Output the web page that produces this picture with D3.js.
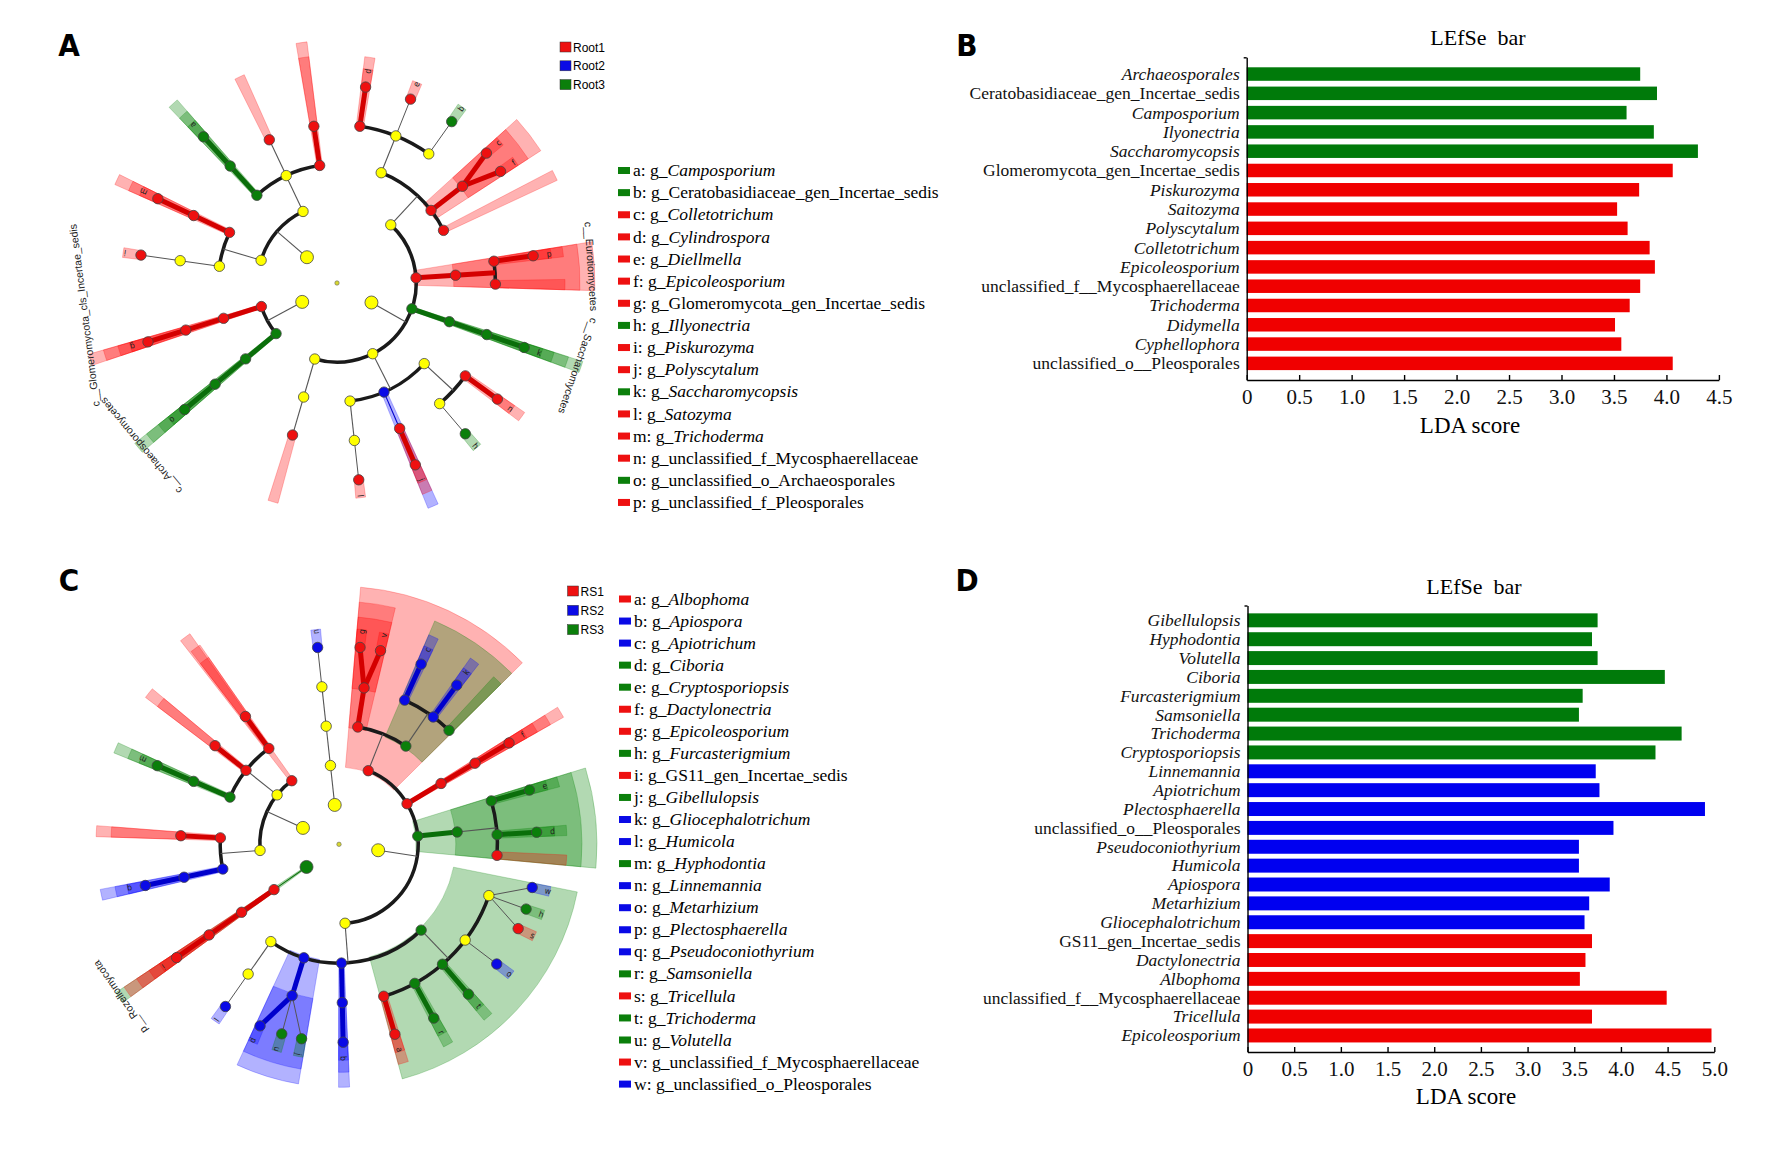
<!DOCTYPE html>
<html><head><meta charset="utf-8">
<script src="https://cdn.jsdelivr.net/npm/d3@7"></script>
<style>
body{margin:0;background:#fff;}
svg{display:block;}
.serif{font-family:"Liberation Serif","Times New Roman",serif;}
.narrow{font-family:"Liberation Sans Narrow","Arial Narrow","DejaVu Sans Condensed","Liberation Sans",sans-serif;}
.sans{font-family:"Liberation Sans",Arial,sans-serif;}
</style></head><body>
<svg id="fig" width="1767" height="1160"></svg>
<script>
// ---------- data ----------
// cladogram rows: [id, parent, group (0 none,1,2,3), leaf angle (deg, clockwise from east), genus letter, clade label]
var cladoA = [
  ["root", ""], 
  ["P1","root",0], ["C1a","P1",0], ["O1","C1a",0], ["F1","O1",1], ["Gd","F1",1,-81.7,"d"], ["F2","O1",0], ["Ge","F2",1,-68.2,"e"],
  ["F3","O1",0], ["Gb","F3",3,-54.6,"b"], ["O2","C1a",1], ["F4","O2",1], ["Gc","F4",1,-41,"c"], ["Gf","F4",1,-34.3,"f"], ["O3","C1a",1,-26.3],
  ["C1b","P1",1,null,"","c__Eurotiomycetes"], ["O4","C1b",1], ["F5","O4",1], ["Gp","F5",1,-7.9,"p"], ["F6","O4",1,0.4],
  ["C1c","P1",3,null,"","c__Saccharomycetes"], ["O5","C1c",3], ["F7","O5",3], ["Gk","F7",3,19,"k"],
  ["C1d","P1",0], ["O6","C1d",0], ["F8","O6",1], ["Gn","F8",1,35.9,"n"], ["F9","O6",0], ["Gh","F9",3,49.6,"h"],
  ["O7","C1d",2], ["F10","O7",1], ["Gj","F10",1,66.7,"j"], ["O8","C1d",0], ["F11","O8",0], ["Gl","F11",1,83.7,"l"],
  ["C1e","P1",0], ["O9","C1e",0], ["F12","O9",1,106.3],
  ["P2","root",0], ["C2a","P2",3,null,"","c__Archaeosporomycetes"], ["O10","C2a",3], ["F13","O10",3], ["Go","F13",3,140.3,"o"],
  ["C2b","P2",1,null,"","c__Glomeromycota_cls_Incertae_sedis"], ["O11","C2b",1], ["F14","O11",1], ["Gg","F14",1,162.7,"g"],
  ["P3","root",0], ["C3a","P3",0], ["O12","C3a",0], ["F15","O12",0], ["Gi","F15",1,-171.9,"i"],
  ["O13","C3a",1], ["F16","O13",1], ["Gm","F16",1,-154.8,"m"],
  ["C3b","P3",0], ["O14","C3b",3], ["F17","O14",3], ["Ga","F17",3,-132.4,"a"],
  ["O15","C3b",0], ["F18","O15",1,-115.3], ["O16","C3b",1], ["F19","O16",1,-98.4]
];
var cladoC = [
  ["root", ""],
  ["P1","root",0],
  ["C1","P1",1], ["O1","C1",1], ["F1","O1",1], ["Gg","F1",1,-83.9,"g"], ["Gv","F1",1,-77.9,"v"],
  ["O2","C1",3], ["F2","O2",2], ["Gc","F2",2,-65.5,"c"], ["F3","O2",2], ["Gk","F3",2,-53.5,"k"], ["F4","O2",3,-46],
  ["C2","P1",1], ["O3","C2",1], ["F5","O3",1], ["Gf","F5",1,-30.8,"f"],
  ["C3","P1",3], ["O4","C3",3], ["F6","O4",3], ["Ge","F6",3,-15.9,"e"], ["F7","O4",3], ["Gd","F7",3,-3.5,"d"], ["F8","O4",1,4],
  ["C4","P1",0], ["O5","C4",3], ["F9","O5",0], ["Gw","F9",2,12.6,"w"], ["Gh","F9",3,19.1,"h"], ["Gs","F9",1,25.2,"s"],
  ["F10","O5",0], ["Go","F10",2,37.2,"o"], ["F11","O5",3], ["Gt","F11",3,49.2,"t"], ["F12","O5",3], ["Gr","F12",3,61.4,"r"],
  ["F13","O5",1], ["Ga","F13",1,73.6,"a"],
  ["O6","C4",2], ["F14","O6",2], ["Gb","F14",2,88.8,"b"],
  ["O7","C4",2], ["F15","O7",2], ["Gj","F15",3,100.9,"j"], ["Gu","F15",3,106.8,"u"], ["Gp","F15",2,113.5,"p"],
  ["O8","C4",0], ["F16","O8",0], ["Gl","F16",2,125,"l"],
  ["P2","root",0], ["C5","P2",0], ["O9","C5",2], ["F17","O9",2], ["Gq","F17",2,-192,"q"], ["O10","C5",1], ["F18","O10",1,-176.9],
  ["C6","P2",0], ["O11","C6",3], ["F19","O11",3], ["Gm","F19",3,-156.6,"m"], ["O12","C6",1], ["F20","O12",1,-141.5],
  ["O13","C6",1], ["F21","O13",1,-126.2],
  ["C7","P2",1,-126.6],
  ["P3","root",0], ["C8","P3",0], ["O14","C8",0], ["F22","O14",0], ["Gn","F22",2,-96.2,"n"],
  ["P4","root",3,null,"","p__Rozellomycota"], ["C9","P4",1], ["O15","C9",1], ["F23","O15",1], ["Gi","F23",1,145.1,"i"]
];

var groupsA = ["Root1", "Root2", "Root3"];
var groupsC = ["RS1", "RS2", "RS3"];

var legendLettersA = ["a","b","c","d","e","f","g","h","i","j","k","l","m","n","o","p"];
var legendNamesA = ["Camposporium","Ceratobasidiaceae_gen_Incertae_sedis","Colletotrichum","Cylindrospora","Diellmella",
  "Epicoleosporium","Glomeromycota_gen_Incertae_sedis","Illyonectria","Piskurozyma","Polyscytalum","Saccharomycopsis",
  "Satozyma","Trichoderma","unclassified_f_Mycosphaerellaceae","unclassified_o_Archaeosporales","unclassified_f_Pleosporales"];
var legendGroupsA = [3,3,1,1,1,1,1,3,1,1,3,1,1,1,3,1];

var legendLettersC = ["a","b","c","d","e","f","g","h","i","j","k","l","m","n","o","p","q","r","s","t","u","v","w"];
var legendNamesC = ["Albophoma","Apiospora","Apiotrichum","Ciboria","Cryptosporiopsis","Dactylonectria","Epicoleosporium",
  "Furcasterigmium","GS11_gen_Incertae_sedis","Gibellulopsis","Gliocephalotrichum","Humicola","Hyphodontia","Linnemannia",
  "Metarhizium","Plectosphaerella","Pseudoconiothyrium","Samsoniella","Tricellula","Trichoderma","Volutella",
  "unclassified_f_Mycosphaerellaceae","unclassified_o_Pleosporales"];
var legendGroupsC = [1,2,2,3,3,1,1,3,1,3,2,2,3,2,2,2,2,3,1,3,3,1,2];

var taxaB = ["Archaeosporales","Ceratobasidiaceae_gen_Incertae_sedis","Camposporium","Ilyonectria","Saccharomycopsis",
  "Glomeromycota_gen_Incertae_sedis","Piskurozyma","Saitozyma","Polyscytalum","Colletotrichum","Epicoleosporium",
  "unclassified_f__Mycosphaerellaceae","Trichoderma","Didymella","Cyphellophora","unclassified_o__Pleosporales"];
var ldaB = [3.75,3.91,3.62,3.88,4.30,4.06,3.74,3.53,3.63,3.84,3.89,3.75,3.65,3.51,3.57,4.06];
var groupB = [3,3,3,3,3,1,1,1,1,1,1,1,1,1,1,1];
var ticksB = [0,0.5,1,1.5,2,2.5,3,3.5,4,4.5];

var taxaD = ["Gibellulopsis","Hyphodontia","Volutella","Ciboria","Furcasterigmium","Samsoniella","Trichoderma",
  "Cryptosporiopsis","Linnemannia","Apiotrichum","Plectosphaerella","unclassified_o__Pleosporales","Pseudoconiothyrium",
  "Humicola","Apiospora","Metarhizium","Gliocephalotrichum","GS11_gen_Incertae_sedis","Dactylonectria","Albophoma",
  "unclassified_f__Mycosphaerellaceae","Tricellula","Epicoleosporium"];
var ldaD = [3.75,3.69,3.75,4.47,3.59,3.55,4.65,4.37,3.73,3.77,4.90,3.92,3.55,3.55,3.88,3.66,3.61,3.69,3.62,3.56,4.49,3.69,4.97];
var groupD = [3,3,3,3,3,3,3,3,2,2,2,2,2,2,2,2,2,1,1,1,1,1,1];
var ticksD = [0,0.5,1,1.5,2,2.5,3,3.5,4,4.5,5];

// ---------- styles ----------
var nodeFill = {0:"#ffff00", 1:"#ee1010", 2:"#0a0ae6", 3:"#0b7f0b"};
var lineCol = {1:"#d40000", 2:"#0000cc", 3:"#0a6e0a"};
var shadeCol = {1:"#ff0000", 2:"#0000ff", 3:"#008000"};
var barCol = {1:"#f00000", 2:"#0000f0", 3:"#007a0a"};
var rad = function (d) { return d * Math.PI / 180; };
var rScale = d3.scaleLinear().domain([0, 5]).range([0, 198]);
var reach = [0, 268, 258, 243, 228, 216];
var pad = 1.3;
var labelNudge = {C2b: 10};   // the long label sits a little clockwise of its clade

var svg = d3.select("#fig");

function drawClado(rows, cx, cy, labelR) {
	var root = d3.stratify().id(function (d) { return d[0]; }).parentId(function (d) { return d[1] || null; })(rows);
	root.eachAfter(function (n) {
		if (!n.children) {
			n.lo = n.hi = n.ang = n.data[3];
		} else {
			n.lo = d3.min(n.children, function (c) { return c.lo; });
			n.hi = d3.max(n.children, function (c) { return c.hi; });
			n.ang = (d3.min(n.children, function (c) { return c.ang; }) + d3.max(n.children, function (c) { return c.ang; })) / 2;
		}
	});
	var xy = function (r, a) { return [r * Math.cos(rad(a)), r * Math.sin(rad(a))]; };
	var g = svg.append("g").attr("transform", "translate(" + cx + "," + cy + ")");

	// shaded clades
	var sig = root.descendants().filter(function (n) { return n.depth > 0 && n.data[2] > 0; })
		.sort(function (a, b) { return a.depth - b.depth; });
	var arc = d3.arc();
	g.append("g").selectAll("path").data(sig).join("path")
		.attr("d", function (n) {
			return arc({innerRadius: rScale(n.depth) - 2, outerRadius: reach[n.depth],
				startAngle: rad(n.lo - pad + 90), endAngle: rad(n.hi + pad + 90)});
		})
		.attr("fill", function (n) { return shadeCol[n.data[2]]; }).attr("fill-opacity", 0.3)
		.attr("stroke", function (n) { return shadeCol[n.data[2]]; }).attr("stroke-opacity", 0.3).attr("stroke-width", 0.8);

	var arcLayer = g.append("g"), lineLayer = g.append("g");
	root.each(function (n) {
		if (!n.children || n.depth === 0) return;
		var gp = n.data[2], kids = n.children, rp = rScale(n.depth), rc = rScale(n.depth + 1);
		var thin = (kids.length === 1 && gp > 0) ? lineCol[gp] : "#555";
		if (n.depth + 1 === 5) {
			kids.forEach(function (k) {
				var same = gp > 0 && k.data[2] === gp, p0 = xy(rp, n.ang), p1 = xy(rc, k.ang);
				lineLayer.append("line").attr("x1", p0[0]).attr("y1", p0[1]).attr("x2", p1[0]).attr("y2", p1[1])
					.attr("stroke", same ? lineCol[gp] : thin).attr("stroke-width", same ? 5 : 1);
			});
		} else {
			if (kids.length > 1) {
				var p = d3.path();
				p.arc(0, 0, rc, rad(d3.min(kids, function (k) { return k.ang; })), rad(d3.max(kids, function (k) { return k.ang; })));
				arcLayer.append("path").attr("d", p.toString()).attr("fill", "none").attr("stroke", "#1a1a1a").attr("stroke-width", 3.5);
			}
			var same = gp > 0 && kids.every(function (k) { return k.data[2] === gp; });
			var p0 = xy(rp, n.ang), p1 = xy(rc, n.ang);
			lineLayer.append("line").attr("x1", p0[0]).attr("y1", p0[1]).attr("x2", p1[0]).attr("y2", p1[1])
				.attr("stroke", same ? lineCol[gp] : thin).attr("stroke-width", same ? 5 : 1.1);
		}
	});

	g.append("g").selectAll("circle").data(root.descendants().filter(function (n) { return n.depth > 0; })).join("circle")
		.attr("cx", function (n) { return xy(rScale(n.depth), n.ang)[0]; })
		.attr("cy", function (n) { return xy(rScale(n.depth), n.ang)[1]; })
		.attr("r", function (n) { return n.depth === 1 ? 6.5 : 5.2; })
		.attr("fill", function (n) { return nodeFill[n.data[2]]; })
		.attr("stroke", "#444").attr("stroke-width", 0.8);
	g.append("circle").attr("r", 2.2).attr("fill", "#d8d830").attr("stroke", "#666").attr("stroke-width", 0.6);

	// genus letters
	g.append("g").selectAll("text").data(root.leaves().filter(function (n) { return n.data[4]; })).join("text")
		.attr("class", "narrow").attr("font-size", 8.5).attr("fill", "#222")
		.attr("text-anchor", "middle").attr("dy", "0.35em")
		.attr("transform", function (n) { var p = xy(rScale(n.depth) + 16, n.ang); return "translate(" + p[0] + "," + p[1] + ") rotate(" + n.ang + ")"; })
		.text(function (n) { return n.data[4]; });

	// clade names
	g.append("g").selectAll("text").data(root.descendants().filter(function (n) { return n.data[5]; })).join("text")
		.attr("class", "sans").attr("font-size", 10.5).attr("fill", "#222").attr("text-anchor", "middle")
		.attr("transform", function (n) {
			var a = n.ang + (labelNudge[n.id] || 0), p = xy(labelR, a);
			return "translate(" + p[0] + "," + p[1] + ") rotate(" + (a + 90) + ")";
		})
		.text(function (n) { return n.data[5]; });
}

drawClado(cladoA, 337, 283, 251);
drawClado(cladoC, 339, 844.3, 263);

function groupLegend(names, x, y0, step) {
	var g = svg.append("g");
	names.forEach(function (nm, i) {
		g.append("rect").attr("x", x).attr("y", y0 + i * step).attr("width", 11).attr("height", 10)
			.attr("fill", nodeFill[i + 1]).attr("stroke", "#333").attr("stroke-width", 0.5);
		g.append("text").attr("class", "sans").attr("x", x + 13).attr("y", y0 + i * step + 9.5)
			.attr("font-size", 12).text(nm);
	});
}
groupLegend(groupsA, 560, 42, 18.8);
groupLegend(groupsC, 567.5, 586, 19.3);

function letterLegend(letters, names, grps, x, y0, step) {
	var g = svg.append("g").attr("class", "serif");
	letters.forEach(function (l, i) {
		var yc = y0 + i * step;
		g.append("rect").attr("x", x).attr("y", yc - 3).attr("width", 12).attr("height", 7).attr("fill", nodeFill[grps[i]]);
		var t = g.append("text").attr("x", x + 15).attr("y", yc).attr("dy", "0.35em").attr("font-size", 17.5);
		t.append("tspan").text(l + ": g_");
		t.append("tspan").attr("font-style", names[i].indexOf("_") < 0 ? "italic" : "normal").text(names[i]);
	});
}
letterLegend(legendLettersA, legendNamesA, legendGroupsA, 618, 170, 22.13);
letterLegend(legendLettersC, legendNamesC, legendGroupsC, 619, 598.5, 22.05);

function barChart(o) {
	var x = d3.scaleLinear().domain([0, o.max]).range([o.x0, o.x1]);
	var y = d3.scaleBand().domain(o.taxa).range([o.b0, o.b1]).paddingInner(o.pin).paddingOuter(o.pin / 2);
	var g = svg.append("g");
	g.selectAll("rect").data(o.taxa).join("rect")
		.attr("x", x(0)).attr("y", function (d) { return y(d); })
		.attr("width", function (d, i) { return x(o.vals[i]) - x(0); }).attr("height", y.bandwidth())
		.attr("fill", function (d, i) { return barCol[o.grps[i]]; });
	var xa = g.append("g").attr("transform", "translate(0," + o.base + ")")
		.call(d3.axisBottom(x).tickValues(o.ticks).tickSizeInner(-5).tickSizeOuter(0).tickPadding(9)
			.tickFormat(function (d) { return d === 0 ? "0" : d.toFixed(1); }));
	xa.selectAll("path,line").attr("stroke", "#000").attr("stroke-width", 1.4);
	xa.selectAll("text").attr("class", "serif").attr("font-size", 21).attr("fill", "#111");
	var yl = d3.scaleLinear().domain([0, 1]).range([o.base, o.top]);
	var ya = g.append("g").attr("transform", "translate(" + o.x0 + ",0)")
		.call(d3.axisLeft(yl).tickValues([1]).tickSizeInner(3).tickSizeOuter(0).tickFormat(""));
	ya.selectAll("path,line").attr("stroke", "#000").attr("stroke-width", 1.4);
	g.selectAll("text.lab").data(o.taxa).join("text").attr("class", "lab serif")
		.attr("transform", function (d) { return "translate(" + (o.x0 - 7) + "," + (y(d) + y.bandwidth() / 2) + ") scale(" + o.sx + ",1)"; })
		.attr("text-anchor", "end").attr("dy", "0.35em").attr("font-size", o.fs).attr("fill", "#111")
		.attr("font-style", function (d) { return d.indexOf("_") < 0 ? "italic" : "normal"; })
		.text(function (d) { return d; });
	g.append("text").attr("class", "serif").attr("x", o.tx).attr("y", o.ty).attr("text-anchor", "middle")
		.attr("font-size", 22).style("white-space", "pre").text("LEfSe  bar");
	g.append("text").attr("class", "serif").attr("x", o.tx - 8).attr("y", o.ly).attr("text-anchor", "middle")
		.attr("font-size", 23).text("LDA score");
}
barChart({taxa: taxaB, vals: ldaB, grps: groupB, ticks: ticksB, max: 4.5, x0: 1246.7, x1: 1718.9,
	top: 57.3, base: 380, b0: 64.4, b1: 373, pin: 0.3, tx: 1478, ty: 45, ly: 433, fs: 17, sx: 1.03});
barChart({taxa: taxaD, vals: ldaD, grps: groupD, ticks: ticksD, max: 5, x0: 1247.5, x1: 1714.3,
	top: 605.5, base: 1052, b0: 610.9, b1: 1044.9, pin: 0.26, tx: 1474, ty: 594, ly: 1104, fs: 16.6, sx: 1.05});

var panelLetters = ["A", "B", "C", "D"];
var panelX = [69, 967, 69, 967], panelY = [56, 56, 591, 591];
svg.append("g").selectAll("text").data(panelLetters).join("text").attr("class", "narrow")
	.attr("x", function (d, i) { return panelX[i]; }).attr("y", function (d, i) { return panelY[i]; })
	.attr("text-anchor", "middle").attr("font-weight", "bold").attr("font-size", 31).text(function (d) { return d; });
</script>
</body></html>
